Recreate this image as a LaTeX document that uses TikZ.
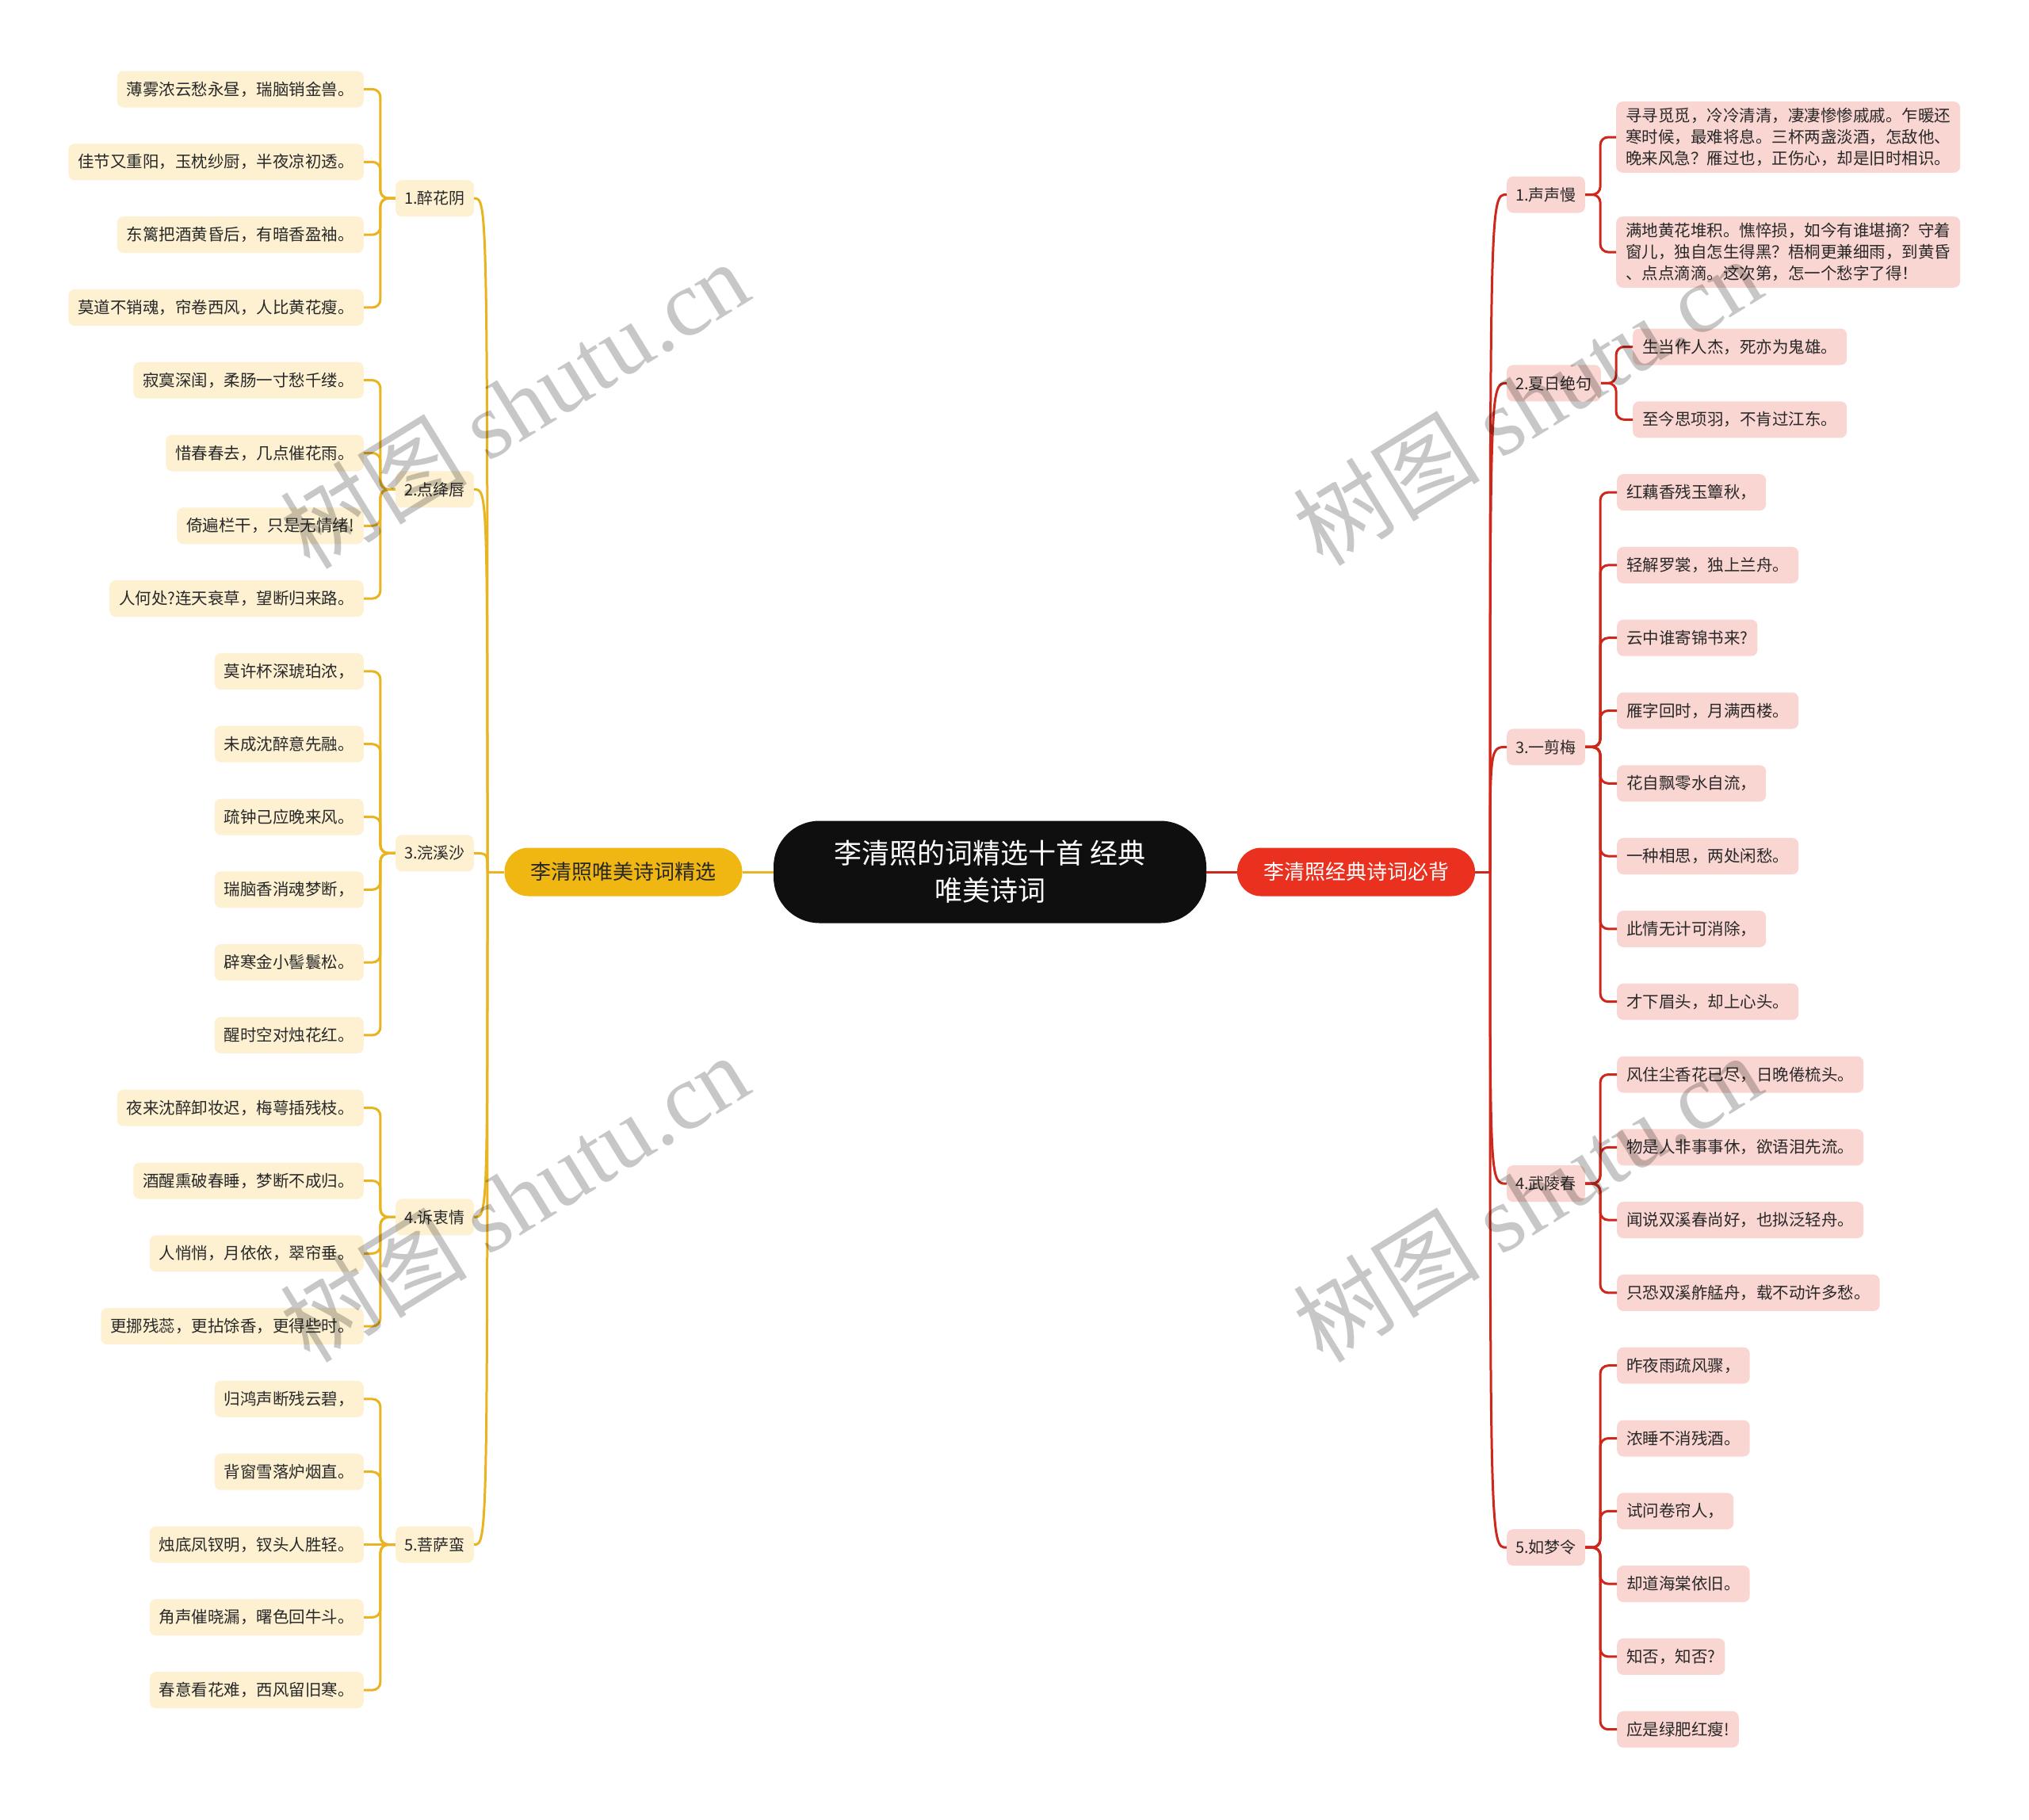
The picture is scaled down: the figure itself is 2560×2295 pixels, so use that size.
\documentclass[tikz,border=0pt]{standalone}
\usepackage{fontspec}
\setmainfont{Noto Sans CJK SC}
\newfontfamily\wmserif{Liberation Serif}
\usetikzlibrary{calc}
\definecolor{ylw}{RGB}{232,180,34}
\definecolor{ylwnode}{RGB}{240,183,18}
\definecolor{cream}{RGB}{253,241,210}
\definecolor{redline}{RGB}{206,40,28}
\definecolor{rednode}{RGB}{234,48,30}
\definecolor{pinkfill}{RGB}{250,214,210}
\definecolor{txt}{RGB}{40,40,40}
\definecolor{blk}{RGB}{15,15,15}
\begin{document}
\begin{tikzpicture}[x=1pt,y=-1pt,
  base/.style={rounded corners=8pt, inner xsep=11pt, inner ysep=0pt, minimum height=46pt, text=txt},
  leafY/.style={base, fill=cream, anchor=east, inner xsep=12pt, font=\fontsize{20.5pt}{27pt}\selectfont},
  leafR/.style={base, fill=pinkfill, anchor=west, inner xsep=12pt, font=\fontsize{20.5pt}{27pt}\selectfont},
  subY/.style={base, fill=cream, anchor=east, font=\fontsize{20pt}{24pt}\selectfont},
  subR/.style={base, fill=pinkfill, anchor=west, font=\fontsize{20pt}{24pt}\selectfont},
  ylink/.style={draw=ylw, line width=3pt},
  rlink/.style={draw=redline, line width=3pt},
  brk/.style={rounded corners=10pt},
  wm/.style={text=black, text opacity=0.22, rotate=31.6, inner sep=0pt}
]
\fill[white] (0,0) rectangle (2560,2295);
\useasboundingbox (0,0) rectangle (2560,2295);

% root and main branches
\node[fill=blk, text=white, rounded corners=58pt, minimum width=546pt, minimum height=129pt,
  align=center, inner sep=0pt, font=\fontsize{35pt}{47pt}\selectfont] (root) at (1249,1100)
  {李清照的词精选十首 经典\\唯美诗词};
\node[fill=ylwnode, text=txt, rounded corners=30pt, minimum width=300pt, minimum height=61pt,
  inner sep=0pt, font=\fontsize{26pt}{30pt}\selectfont] (ly) at (786.5,1100) {李清照唯美诗词精选};
\node[fill=rednode, text=white, rounded corners=30pt, minimum width=300pt, minimum height=61pt,
  inner sep=0pt, font=\fontsize{26pt}{30pt}\selectfont] (rr) at (1711,1100) {李清照经典诗词必背};

% left level 2
\node[subY] (gl1) at (598,250.2) {1.醉花阴};
\node[subY] (gl2) at (598,617.4) {2.点绛唇};
\node[subY] (gl3) at (598,1076.4) {3.浣溪沙};
\node[subY] (gl4) at (598,1535.4) {4.诉衷情};
\node[subY] (gl5) at (598,1948.5) {5.菩萨蛮};

% left leaves
\node[leafY] (a0) at (459,112.5) {薄雾浓云愁永昼，瑞脑销金兽。};
\node[leafY] (a1) at (459,204.3) {佳节又重阳，玉枕纱厨，半夜凉初透。};
\node[leafY] (a2) at (459,296.1) {东篱把酒黄昏后，有暗香盈袖。};
\node[leafY] (a3) at (459,387.9) {莫道不销魂，帘卷西风，人比黄花瘦。};
\node[leafY] (a4) at (459,479.7) {寂寞深闺，柔肠一寸愁千缕。};
\node[leafY] (a5) at (459,571.5) {惜春春去，几点催花雨。};
\node[leafY] (a6) at (459,663.3) {倚遍栏干，只是无情绪!};
\node[leafY] (a7) at (459,755.1) {人何处?连天衰草，望断归来路。};
\node[leafY] (a8) at (459,846.9) {莫许杯深琥珀浓，};
\node[leafY] (a9) at (459,938.7) {未成沈醉意先融。};
\node[leafY] (a10) at (459,1030.5) {疏钟己应晚来风。};
\node[leafY] (a11) at (459,1122.3) {瑞脑香消魂梦断，};
\node[leafY] (a12) at (459,1214.1) {辟寒金小髻鬟松。};
\node[leafY] (a13) at (459,1305.9) {醒时空对烛花红。};
\node[leafY] (a14) at (459,1397.7) {夜来沈醉卸妆迟，梅萼插残枝。};
\node[leafY] (a15) at (459,1489.5) {酒醒熏破春睡，梦断不成归。};
\node[leafY] (a16) at (459,1581.3) {人悄悄，月依依，翠帘垂。};
\node[leafY] (a17) at (459,1673.1) {更挪残蕊，更拈馀香，更得些时。};
\node[leafY] (a18) at (459,1764.9) {归鸿声断残云碧，};
\node[leafY] (a19) at (459,1856.7) {背窗雪落炉烟直。};
\node[leafY] (a20) at (459,1948.5) {烛底凤钗明，钗头人胜轻。};
\node[leafY] (a21) at (459,2040.3) {角声催晓漏，曙色回牛斗。};
\node[leafY] (a22) at (459,2132.1) {春意看花难，西风留旧寒。};

% right level 2
\node[subR] (gr1) at (1901,245.5) {1.声声慢};
\node[subR] (gr2) at (1901,483.4) {2.夏日绝句};
\node[subR] (gr3) at (1901,942.4) {3.一剪梅};
\node[subR] (gr4) at (1901,1493.2) {4.武陵春};
\node[subR] (gr5) at (1901,1952.2) {5.如梦令};

% right leaves
\node[leafR, align=left, inner ysep=8pt] (s0) at (2039,173)
  {寻寻觅觅，冷冷清清，凄凄惨惨戚戚。乍暖还\\寒时候，最难将息。三杯两盏淡酒，怎敌他、\\晚来风急？雁过也，正伤心，却是旧时相识。};
\node[leafR, align=left, inner ysep=8pt] (s1) at (2039,318)
  {满地黄花堆积。憔悴损，如今有谁堪摘？守着\\窗儿，独自怎生得黑？梧桐更兼细雨，到黄昏\\、点点滴滴。这次第，怎一个愁字了得！};
\node[leafR] (b0) at (2060,437.5) {生当作人杰，死亦为鬼雄。};
\node[leafR] (b1) at (2060,529.3) {至今思项羽，不肯过江东。};
\node[leafR] (b2) at (2040,621.1) {红藕香残玉簟秋，};
\node[leafR] (b3) at (2040,712.9) {轻解罗裳，独上兰舟。};
\node[leafR] (b4) at (2040,804.7) {云中谁寄锦书来?};
\node[leafR] (b5) at (2040,896.5) {雁字回时，月满西楼。};
\node[leafR] (b6) at (2040,988.3) {花自飘零水自流，};
\node[leafR] (b7) at (2040,1080.1) {一种相思，两处闲愁。};
\node[leafR] (b8) at (2040,1171.9) {此情无计可消除，};
\node[leafR] (b9) at (2040,1263.7) {才下眉头，却上心头。};
\node[leafR] (b10) at (2040,1355.5) {风住尘香花已尽，日晚倦梳头。};
\node[leafR] (b11) at (2040,1447.3) {物是人非事事休，欲语泪先流。};
\node[leafR] (b12) at (2040,1539.1) {闻说双溪春尚好，也拟泛轻舟。};
\node[leafR] (b13) at (2040,1630.9) {只恐双溪舴艋舟，载不动许多愁。};
\node[leafR] (b14) at (2040,1722.7) {昨夜雨疏风骤，};
\node[leafR] (b15) at (2040,1814.5) {浓睡不消残酒。};
\node[leafR] (b16) at (2040,1906.3) {试问卷帘人，};
\node[leafR] (b17) at (2040,1998.1) {却道海棠依旧。};
\node[leafR] (b18) at (2040,2089.9) {知否，知否?};
\node[leafR] (b19) at (2040,2181.7) {应是绿肥红瘦!};

% connectors: root to main
\draw[ylink] (root.west) -- (ly.east);
\draw[rlink] (root.east) -- (rr.west);

% main to level 2
\coordinate (ltr) at (615,1100);
\coordinate (rtr) at (1880,1100);
\draw[ylink] (ly.west) -- (ltr);
\draw[rlink] (rr.east) -- (rtr);
\foreach \g in {gl1,gl2,gl3,gl4,gl5}
  \draw[ylink] (ltr) .. controls (ltr |- \g.east) .. (\g.east);
\foreach \g in {gr1,gr2,gr3,gr4,gr5}
  \draw[rlink] (rtr) .. controls (rtr |- \g.west) .. (\g.west);

% level 2 to leaves
\foreach \g/\lst in {gl1/{0,1,2,3}, gl2/{4,5,6,7}, gl3/{8,9,10,11,12,13}, gl4/{14,15,16,17}, gl5/{18,19,21,22}}
  \foreach \k in \lst
    \draw[ylink, brk] (\g.west) -- ++(-19,0) |- (a\k.east);
\draw[ylink] (gl5.west) -- (a20.east);

\foreach \g/\lst in {gr1/{s0,s1}, gr2/{b0,b1}, gr3/{b2,b3,b4,b5,b6,b7,b8,b9}, gr4/{b10,b11,b12,b13}, gr5/{b14,b15,b16,b17,b18,b19}}
  \foreach \k in \lst
    \draw[rlink, brk] (\g.east) -- ++(19,0) |- (\k.west);

% watermark
\foreach \n/\p in {w1/{649,510}, w2/{649,1511}, w3/{1927,506}, w4/{1927,1511}}
  \node[wm] (\n) at (\p) {\fontsize{118pt}{118pt}\selectfont 树图 {\wmserif shutu.cn}};
\end{tikzpicture}
\end{document}
